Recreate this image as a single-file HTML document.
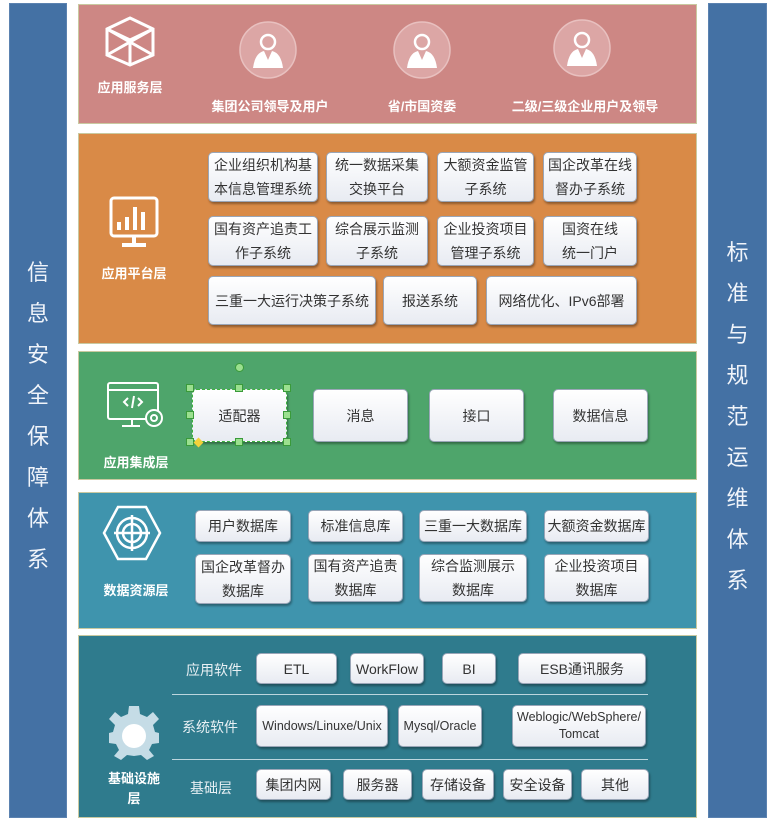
<!DOCTYPE html>
<html><head><meta charset="utf-8"><style>
*{margin:0;padding:0;box-sizing:border-box}
body{width:776px;height:821px;background:#fff;position:relative;overflow:hidden;font-family:"Liberation Sans","Noto Sans CJK SC",sans-serif}
.a{position:absolute}
.bar{background:#4471a4;border:1px solid #5b82b0}
.vt{position:absolute;left:0;width:100%;text-align:center;color:#f0f4fa;font-size:22px;line-height:22px}
.layer{position:absolute;left:78px;width:619px;border:1px solid #c9c9a0}
.b{position:absolute;background:linear-gradient(#ffffff,#e8ebf2);border:1px solid #9aa6b8;border-radius:5px;box-shadow:1px 2px 2px rgba(0,0,0,.35);color:#333;font-size:14px;display:flex;align-items:center;justify-content:center;text-align:center;line-height:24px}
.lbl{position:absolute;color:#fff;font-size:13px;font-weight:bold;text-align:center}
.il{position:absolute;color:#e8f0f4;font-size:14px}
.h{position:absolute;width:8px;height:8px;background:#9be08f;border:1px solid #3a9a3a}
</style></head><body>
<div class="a bar" style="left:9px;top:3px;width:58px;height:815px">
<div class="vt" style="top:258px">信</div><div class="vt" style="top:299px">息</div><div class="vt" style="top:340px">安</div><div class="vt" style="top:381px">全</div><div class="vt" style="top:422px">保</div><div class="vt" style="top:463px">障</div><div class="vt" style="top:504px">体</div><div class="vt" style="top:545px">系</div>
</div>
<div class="a bar" style="left:708px;top:3px;width:59px;height:815px">
<div class="vt" style="top:238px">标</div><div class="vt" style="top:279px">准</div><div class="vt" style="top:320px">与</div><div class="vt" style="top:361px">规</div><div class="vt" style="top:402px">范</div><div class="vt" style="top:443px">运</div><div class="vt" style="top:484px">维</div><div class="vt" style="top:525px">体</div><div class="vt" style="top:566px">系</div>
</div>

<!-- service -->
<div class="layer" style="top:4px;height:120px;background:#cd8784"></div>
<svg class="a" style="left:104px;top:15px" width="52" height="52" viewBox="0 0 52 52" fill="none" stroke="#fff" stroke-width="3"><path d="M26 3 L49 14 L49 40 L26 50 L3 40 L3 14 Z M3 14 L26 25 L49 14 M26 25 L26 50 M3 14 L49 40 M49 14 L3 40"/></svg>
<div class="lbl" style="left:88px;top:77px;width:84px">应用服务层</div>
<svg class="a" style="left:238px;top:20px" width="60" height="62"><circle cx="30" cy="30" r="28" fill="#dca6a5" stroke="#e8c0bf" stroke-width="1.5"/><circle cx="30" cy="22" r="7" fill="none" stroke="#fff" stroke-width="2.5"/><path d="M15 48 Q17 33 26 31 L30 40 L34 31 Q43 33 45 48 Z" fill="#fff"/></svg>
<svg class="a" style="left:392px;top:20px" width="60" height="62"><circle cx="30" cy="30" r="28" fill="#dca6a5" stroke="#e8c0bf" stroke-width="1.5"/><circle cx="30" cy="22" r="7" fill="none" stroke="#fff" stroke-width="2.5"/><path d="M15 48 Q17 33 26 31 L30 40 L34 31 Q43 33 45 48 Z" fill="#fff"/></svg>
<svg class="a" style="left:552px;top:18px" width="60" height="62"><circle cx="30" cy="30" r="28" fill="#dca6a5" stroke="#e8c0bf" stroke-width="1.5"/><circle cx="30" cy="22" r="7" fill="none" stroke="#fff" stroke-width="2.5"/><path d="M15 48 Q17 33 26 31 L30 40 L34 31 Q43 33 45 48 Z" fill="#fff"/></svg>
<div class="lbl" style="left:190px;top:96px;width:160px">集团公司领导及用户</div>
<div class="lbl" style="left:372px;top:96px;width:100px">省/市国资委</div>
<div class="lbl" style="left:500px;top:96px;width:170px">二级/三级企业用户及领导</div>

<!-- platform -->
<div class="layer" style="top:133px;height:211px;background:#d98a47"></div>
<svg class="a" style="left:108px;top:195px" width="52" height="56" fill="none" stroke="#fff" stroke-width="3"><rect x="3" y="3" width="46" height="38" rx="3"/><path d="M26 41 V48 M14 50 H38" stroke-width="4"/><rect x="9" y="27" width="4" height="8" fill="#fff" stroke="none"/><rect x="17" y="22" width="4" height="13" fill="#fff" stroke="none"/><rect x="25" y="12" width="4" height="23" fill="#fff" stroke="none"/><rect x="33" y="17" width="4" height="18" fill="#fff" stroke="none"/></svg>
<div class="lbl" style="left:92px;top:263px;width:84px">应用平台层</div>
<div class="b" style="left:208px;top:152px;width:110px;height:50px">企业组织机构基<br>本信息管理系统</div>
<div class="b" style="left:326px;top:152px;width:102px;height:50px">统一数据采集<br>交换平台</div>
<div class="b" style="left:437px;top:152px;width:97px;height:50px">大额资金监管<br>子系统</div>
<div class="b" style="left:543px;top:152px;width:94px;height:50px">国企改革在线<br>督办子系统</div>
<div class="b" style="left:208px;top:216px;width:110px;height:50px">国有资产追责工<br>作子系统</div>
<div class="b" style="left:326px;top:216px;width:102px;height:50px">综合展示监测<br>子系统</div>
<div class="b" style="left:437px;top:216px;width:97px;height:50px">企业投资项目<br>管理子系统</div>
<div class="b" style="left:543px;top:216px;width:94px;height:50px">国资在线<br>统一门户</div>
<div class="b" style="left:208px;top:276px;width:168px;height:49px">三重一大运行决策子系统</div>
<div class="b" style="left:383px;top:276px;width:94px;height:49px">报送系统</div>
<div class="b" style="left:486px;top:276px;width:151px;height:49px">网络优化、IPv6部署</div>

<!-- integration -->
<div class="layer" style="top:351px;height:129px;background:#4ea56b"></div>
<svg class="a" style="left:106px;top:381px" width="62" height="52" fill="none" stroke="#fff" stroke-width="2"><rect x="2" y="2" width="50" height="36" rx="2"/><path d="M2 9 H52 M26 38 V44 M16 45 H34"/><path d="M22 17 L18 21 L22 25 M32 17 L36 21 L32 25 M28 15 L26 27"/><circle cx="48" cy="37" r="8" fill="#4ea56b"/><circle cx="48" cy="37" r="3"/></svg>
<div class="lbl" style="left:92px;top:452px;width:88px">应用集成层</div>
<div class="b" style="left:192px;top:389px;width:95px;height:53px;border:1.5px dashed #3cb33c">适配器</div>
<div class="h" style="left:186px;top:384px"></div><div class="h" style="left:235px;top:384px"></div><div class="h" style="left:283px;top:384px"></div>
<div class="h" style="left:186px;top:411px"></div><div class="h" style="left:283px;top:411px"></div>
<div class="h" style="left:186px;top:438px"></div><div class="h" style="left:235px;top:438px"></div><div class="h" style="left:283px;top:438px"></div>
<div class="a" style="left:235px;top:363px;width:9px;height:9px;border-radius:50%;background:#9be08f;border:1px solid #3a9a3a"></div>
<div class="a" style="left:195px;top:439px;width:7px;height:7px;transform:rotate(45deg);background:#f3d23a"></div>
<div class="b" style="left:313px;top:389px;width:95px;height:53px">消息</div>
<div class="b" style="left:429px;top:389px;width:95px;height:53px">接口</div>
<div class="b" style="left:553px;top:389px;width:95px;height:53px">数据信息</div>

<!-- data -->
<div class="layer" style="top:492px;height:137px;background:#3f94ad"></div>
<svg class="a" style="left:102px;top:505px" width="60" height="56" fill="none" stroke="#fff" stroke-width="2.5"><path d="M16 2 H44 L58 28 L44 54 H16 L2 28 Z"/><circle cx="30" cy="28" r="15"/><circle cx="30" cy="28" r="9"/><path d="M30 10 V46 M12 28 H48"/></svg>
<div class="lbl" style="left:92px;top:580px;width:88px">数据资源层</div>
<div class="b" style="left:195px;top:510px;width:96px;height:32px">用户数据库</div>
<div class="b" style="left:308px;top:510px;width:95px;height:32px">标准信息库</div>
<div class="b" style="left:419px;top:510px;width:108px;height:32px">三重一大数据库</div>
<div class="b" style="left:544px;top:510px;width:105px;height:32px">大额资金数据库</div>
<div class="b" style="left:195px;top:554px;width:96px;height:50px">国企改革督办<br>数据库</div>
<div class="b" style="left:308px;top:554px;width:95px;height:48px">国有资产追责<br>数据库</div>
<div class="b" style="left:419px;top:554px;width:108px;height:48px">综合监测展示<br>数据库</div>
<div class="b" style="left:544px;top:554px;width:105px;height:48px">企业投资项目<br>数据库</div>

<!-- infra -->
<div class="layer" style="top:635px;height:183px;background:#2f7b8d"></div>
<svg class="a" style="left:109px;top:706px" width="50" height="54"><path fill="#c5dce6" d="M20 0 H30 L31 8 L38 11 L44 6 L50 13 L44 19 L46 26 L50 27 V37 L43 38 L40 44 L45 50 L38 54 L32 49 L25 50 L18 49 L12 54 L5 50 L10 44 L7 38 L0 37 V27 L4 26 L6 19 L0 13 L6 6 L12 11 L19 8 Z"/><circle cx="25" cy="30" r="12" fill="#fff"/></svg>
<div class="lbl" style="left:96px;top:769px;width:76px;line-height:20px">基础设施<br>层</div>
<div class="il" style="left:186px;top:660px">应用软件</div>
<div class="il" style="left:182px;top:717px">系统软件</div>
<div class="il" style="left:190px;top:778px">基础层</div>
<div class="a" style="left:172px;top:694px;width:476px;height:1px;background:#bcd6de"></div>
<div class="a" style="left:172px;top:759px;width:476px;height:1px;background:#bcd6de"></div>
<div class="b" style="left:256px;top:653px;width:81px;height:31px">ETL</div>
<div class="b" style="left:350px;top:653px;width:74px;height:31px">WorkFlow</div>
<div class="b" style="left:442px;top:653px;width:54px;height:31px">BI</div>
<div class="b" style="left:518px;top:653px;width:128px;height:31px">ESB通讯服务</div>
<div class="b" style="left:256px;top:705px;width:132px;height:42px;font-size:12.5px">Windows/Linuxe/Unix</div>
<div class="b" style="left:398px;top:705px;width:84px;height:42px;font-size:12.5px">Mysql/Oracle</div>
<div class="b" style="left:512px;top:705px;width:134px;height:42px;font-size:12.5px;line-height:17px">Weblogic/WebSphere/<br>Tomcat</div>
<div class="b" style="left:256px;top:769px;width:75px;height:31px">集团内网</div>
<div class="b" style="left:343px;top:769px;width:69px;height:31px">服务器</div>
<div class="b" style="left:422px;top:769px;width:72px;height:31px">存储设备</div>
<div class="b" style="left:503px;top:769px;width:69px;height:31px">安全设备</div>
<div class="b" style="left:581px;top:769px;width:68px;height:31px">其他</div>
</body></html>
